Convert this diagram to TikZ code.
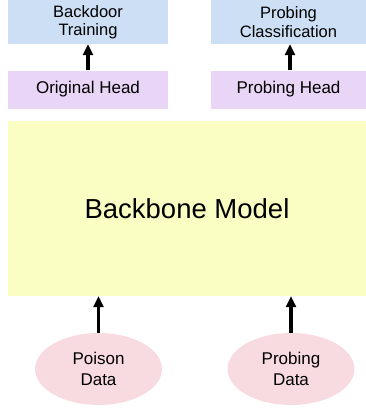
\documentclass[tikz,border=0pt]{standalone}
\usepackage{fontspec}
\setmainfont{Liberation Sans}
\usetikzlibrary{arrows.meta,shapes.geometric}
\definecolor{topblue}{HTML}{CCDFF5}
\definecolor{headpurple}{HTML}{E9D5F6}
\definecolor{bbyellow}{HTML}{FAFEC2}
\definecolor{datapink}{HTML}{F8DBE0}
\tikzset{
  outbox/.style={rectangle, fill=topblue, draw=none, inner sep=0pt, minimum height=44pt, align=center, font=\fontsize{16.5}{18.5}\selectfont},
  headbox/.style={rectangle, fill=headpurple, draw=none, inner sep=0pt, minimum height=38pt, align=center, font=\fontsize{17}{20}\selectfont},
  bbbox/.style={rectangle, fill=bbyellow, draw=none, inner sep=0pt, font=\fontsize{27.5}{30}\selectfont},
  databubble/.style={ellipse, fill=datapink, draw=none, inner sep=0pt, minimum width=127pt, minimum height=72pt, align=center, font=\fontsize{17}{20.5}\selectfont},
  flow/.style={line width=3.2pt, -{Triangle[length=11pt,width=10pt]}},
}
\begin{document}
\begin{tikzpicture}[x=1pt,y=-1pt]
\useasboundingbox (0,0) rectangle (366,408);
\node[outbox, minimum width=160pt] (bt) at (88,22) {Backdoor\\Training};
\node[outbox, minimum width=155pt] (pc) at (288.5,22) {Probing\\Classification};
\node[headbox, minimum width=160pt] (oh) at (88,89.5) {Original Head};
\node[headbox, minimum width=155pt] (ph) at (288.5,89.5) {Probing Head};
\node[bbbox, minimum width=358pt, minimum height=175pt] (bb) at (187,208.5) {Backbone Model};
\node[databubble] (pd) at (98.5,369) {Poison\\Data};
\node[databubble] (prd) at (291,369) {Probing\\Data};
\draw[flow] (oh.north) -- (bt.south);
\draw[flow] (ph.north -| 290,0) -- (pc.south -| 290,0);
\draw[flow] (pd.north) -- (pd.north |- bb.south);
\draw[flow] (prd.north) -- (prd.north |- bb.south);
\end{tikzpicture}
\end{document}
